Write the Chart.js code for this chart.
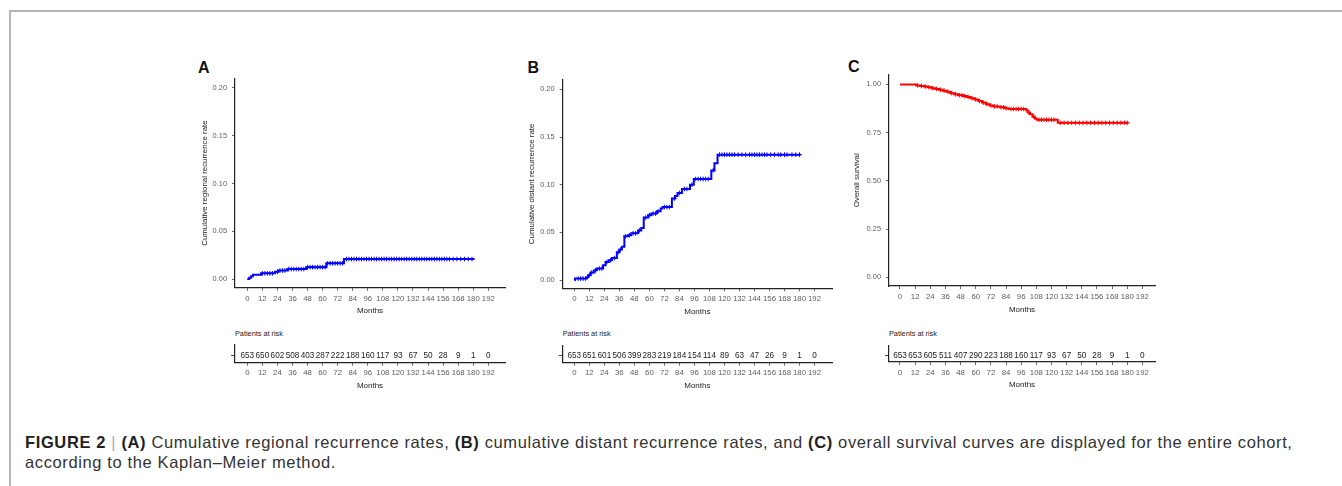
<!DOCTYPE html>
<html>
<head>
<meta charset="utf-8">
<script src="https://cdn.jsdelivr.net/npm/chart.js@4.4.0/dist/chart.umd.min.js"></script>
<style>
  body { margin: 0; background: #fff; font-family: "Liberation Sans", Arial, sans-serif; }
  #page { position: relative; width: 1342px; height: 486px; overflow: hidden; }
  #frame { position: absolute; left: 9px; top: 10px; right: -5px; bottom: -5px;
           border-top: 2px solid #b4b4b4; border-left: 2px solid #b4b4b4; }
  canvas { position: absolute; }
  .letter { position: absolute; font-weight: bold; font-size: 16px; color: #111; line-height: 16px; }
  .risk-title { position: absolute; font-size: 7.3px; color: #222; line-height: 9px; }
  #caption { position: absolute; left: 25px; top: 432px; font-size: 16.5px; letter-spacing: 0.62px;
             line-height: 20px; color: #333; white-space: nowrap; }
  #caption b { color: #231f20; }
  #caption .bar { color: #aaa; }
</style>
</head>
<body>
<div id="page">
  <div id="frame"></div>
  <div id="caption"><b>FIGURE 2</b> <span class="bar">|</span> <b>(A)</b> Cumulative regional recurrence rates, <b>(B)</b> cumulative distant recurrence rates, and <b>(C)</b> overall survival curves are displayed for the entire cohort,<br>according to the Kaplan–Meier method.</div>
</div>
<script>
// shared axis ticks
const monthTicks = [0, 12, 24, 36, 48, 60, 72, 84, 96, 108, 120, 132, 144, 156, 168, 180, 192];
const rateTicks = [0, 0.05, 0.10, 0.15, 0.20];
const survTicks = [0, 0.25, 0.50, 0.75, 1.00];

// A - regional recurrence (step times / cumulative rate)
const regTimes = [0, 1.5, 3, 4.5, 11, 22, 24.5, 32, 47, 63, 77, 181];
const regValues = [0, 0.0015, 0.003, 0.0046, 0.006, 0.0076, 0.009, 0.0105, 0.0125, 0.0165, 0.021, 0.021];
const regCensor = [12, 14, 16, 18, 20, 24, 26, 28, 30, 33, 35, 37, 39, 41, 43, 45, 48, 50, 52, 54, 56, 58, 60, 62,
  64, 66, 68, 70, 72, 74, 76, 79, 81, 83, 85, 87, 89, 91, 93, 95, 97, 99, 101, 103, 105, 107, 109, 111, 113, 115,
  117, 119, 121, 123, 125, 127, 129, 131, 133, 135, 137, 139, 141, 143, 145, 147, 149, 151, 153, 155, 157, 159,
  161, 164, 167, 170, 173, 176, 179];
const regRisk = [653, 650, 602, 508, 403, 287, 222, 188, 160, 117, 93, 67, 50, 28, 9, 1, 0];

// B - distant recurrence
const distTimes = [0, 0.5, 10, 11, 13, 16, 18, 23, 25, 27.5, 30, 34, 36, 38, 40, 43, 45.5, 51, 53.5, 55.5, 59, 61.5,
  66, 69, 70.5, 78, 80.5, 82.5, 86, 92.5, 95.5, 109.5, 112, 114.5, 181];
const distValues = [0, 0.0015, 0.003, 0.005, 0.008, 0.0103, 0.012, 0.0155, 0.019, 0.0207, 0.023, 0.029, 0.032, 0.035,
  0.046, 0.047, 0.049, 0.052, 0.0545, 0.0655, 0.068, 0.0697, 0.072, 0.075, 0.0765, 0.0855, 0.088, 0.0914, 0.0955,
  0.100, 0.106, 0.115, 0.1225, 0.1315, 0.1315];
const distCensor = [3, 5, 7, 9, 12, 14, 17, 20, 22, 26, 29, 32, 35, 37, 41, 44, 47, 49, 52, 57, 60, 63, 65, 67, 72, 74,
  76, 80, 84, 88, 90, 94, 97, 99, 101, 103, 105, 107, 111, 116, 118, 120, 122, 124, 126, 128, 131, 134, 137, 140,
  142, 144, 146, 148, 150, 152, 154, 157, 160, 163, 165, 168, 170, 174, 177, 180];
const distRisk = [653, 651, 601, 506, 399, 283, 219, 184, 154, 114, 89, 63, 47, 26, 9, 1, 0];

// C - overall survival
const osTimes = [0, 12, 13, 16, 19, 22, 25, 28, 31, 34, 37, 40, 43, 46, 50, 53, 56, 59, 62, 65, 68, 71, 74, 79, 83, 86,
  100, 101.5, 103, 105, 107, 108.5, 125, 181];
const osValues = [1, 1, 0.995, 0.992, 0.989, 0.985, 0.981, 0.977, 0.973, 0.968, 0.962, 0.955, 0.949, 0.944, 0.940,
  0.935, 0.929, 0.922, 0.914, 0.906, 0.898, 0.891, 0.886, 0.882, 0.877, 0.873, 0.865, 0.855, 0.845, 0.833, 0.822,
  0.817, 0.801, 0.801];
const osCensor = [14, 17, 20, 23, 26, 29, 32, 35, 38, 41, 44, 47, 49, 51, 54, 57, 60, 63, 66, 69, 72, 75, 77, 80, 82,
  84, 88, 90, 92, 94, 96, 98, 102, 106, 110, 112, 114, 116, 118, 120, 122, 127, 130, 133, 136, 139, 142, 145, 148,
  151, 154, 157, 160, 163, 166, 169, 172, 175, 178, 180];
const osRisk = [653, 653, 605, 511, 407, 290, 223, 188, 160, 117, 93, 67, 50, 28, 9, 1, 0];

Chart.defaults.font.family = '"Liberation Sans", Arial, sans-serif';
Chart.defaults.animation = false;

const panels = [
  { letter: "A", letterX: 198, letterY: 60, yTitle: "Cumulative regional recurrence rate",
    times: regTimes, values: regValues, censor: regCensor, risk: regRisk, yTicks: rateTicks, color: "#0000ff",
    axisX: 235, top: 77.7, bottom: 287.7, right: 505, xMin: -9.8, xMax: 205.3, yMin: -0.009, yMax: 0.21,
    titleDist: 30, riskTop: 342.7, riskBottom: 362.7 },
  { letter: "B", letterX: 527.5, letterY: 60, yTitle: "Cumulative distant recurrence rate",
    times: distTimes, values: distValues, censor: distCensor, risk: distRisk, yTicks: rateTicks, color: "#0000ff",
    axisX: 562.7, top: 78.3, bottom: 288.3, right: 832, xMin: -9.3, xMax: 206, yMin: -0.0087, yMax: 0.2104,
    titleDist: 31, riskTop: 343.3, riskBottom: 362.7 },
  { letter: "C", letterX: 848, letterY: 59, yTitle: "Overall survival",
    times: osTimes, values: osValues, censor: osCensor, risk: osRisk, yTicks: survTicks, color: "#ff0000",
    axisX: 889, top: 73.3, bottom: 286, right: 1155, xMin: -8.7, xMax: 202, yMin: -0.045, yMax: 1.052,
    titleDist: 32.3, riskTop: 343, riskBottom: 362 }
];

function stepAt(times, values, t) {
  let v = values[0];
  for (let i = 0; i < times.length; i++) {
    if (times[i] <= t) v = values[i];
  }
  return v;
}

const riskNumbers = {
  id: "riskNumbers",
  afterDatasetsDraw(chart) {
    const ds = chart.data.datasets[0];
    const { ctx, scales: { x, y } } = chart;
    ctx.save();
    ctx.font = '8.2px "Liberation Sans", Arial, sans-serif';
    ctx.fillStyle = "#222";
    ctx.textAlign = "center";
    ctx.textBaseline = "middle";
    ds.data.forEach(function (p) {
      ctx.fillText(String(p.label), x.getPixelForValue(p.x), y.getPixelForValue(p.y));
    });
    ctx.restore();
  }
};

const page = document.getElementById("page");

function addCanvas(left, top, width, height) {
  const c = document.createElement("canvas");
  c.width = width;
  c.height = height;
  c.style.left = left + "px";
  c.style.top = top + "px";
  c.style.width = width + "px";
  c.style.height = height + "px";
  page.appendChild(c);
  return c;
}

function xAxis(p, xH, tickCenter, titleCenter) {
  const fontSize = 7.8;
  return {
    type: "linear",
    min: p.xMin,
    max: p.xMax,
    afterBuildTicks: function (scale) { scale.ticks = monthTicks.map(function (v) { return { value: v }; }); },
    afterFit: function (scale) { scale.height = xH; },
    border: { display: true, color: "#222", width: 1.2 },
    grid: { display: true, drawOnChartArea: false, drawTicks: true, tickLength: 3, color: "#666" },
    ticks: { color: "#5e5e5e", font: { size: fontSize }, padding: tickCenter - 3 - fontSize * 0.6, maxRotation: 0, autoSkip: false },
    title: { display: true, text: "Months", color: "#222", font: { size: 8 },
             padding: { top: 0, bottom: xH - titleCenter - 4.8 } }
  };
}

panels.forEach(function (p) {
  // panel letter
  const L = document.createElement("div");
  L.className = "letter";
  L.style.left = p.letterX + "px";
  L.style.top = p.letterY + "px";
  L.textContent = p.letter;
  page.appendChild(L);

  // main KM plot
  const cLeft = Math.floor(p.axisX - 45);
  const yW = p.axisX - cLeft;
  const cTop = Math.floor(p.top - 8);
  const cW = Math.ceil(p.right + 6) - cLeft;
  const cH = Math.ceil(p.bottom + 32) - cTop;
  const xH = cTop + cH - p.bottom;

  const stepData = p.times.map(function (t, i) { return { x: t, y: p.values[i] }; });
  const censorData = p.censor.map(function (t) { return { x: t, y: stepAt(p.times, p.values, t) }; });

  new Chart(addCanvas(cLeft, cTop, cW, cH), {
    type: "line",
    data: {
      datasets: [
        { data: stepData, stepped: "before", borderColor: p.color, borderWidth: 2, pointRadius: 0, fill: false },
        { data: censorData, showLine: false, pointStyle: "cross", pointRadius: 2.3, pointBorderWidth: 1,
          borderColor: p.color, backgroundColor: p.color }
      ]
    },
    options: {
      responsive: false,
      devicePixelRatio: 1,
      layout: { padding: { left: 0, top: p.top - cTop, right: cLeft + cW - p.right, bottom: 0 } },
      plugins: { legend: { display: false }, tooltip: { enabled: false } },
      scales: {
        x: xAxis(p, xH, 11, 23.5),
        y: {
          type: "linear",
          min: p.yMin,
          max: p.yMax,
          afterBuildTicks: function (scale) { scale.ticks = p.yTicks.map(function (v) { return { value: v }; }); },
          afterFit: function (scale) { scale.width = yW; },
          border: { display: true, color: "#222", width: 1.2 },
          grid: { display: true, drawOnChartArea: false, drawTicks: true, tickLength: 3, color: "#666" },
          ticks: { color: "#5e5e5e", font: { size: 7.4 }, padding: 5, callback: function (v) { return v.toFixed(2); } },
          title: { display: true, text: p.yTitle, color: "#222", font: { size: 7.9 },
                   padding: { top: p.axisX - p.titleDist - cLeft - 4.7, bottom: 0 } }
        }
      }
    }
  });

  // "Patients at risk" heading
  const T = document.createElement("div");
  T.className = "risk-title";
  T.style.left = p.axisX + "px";
  T.style.top = (p.riskTop - 14) + "px";
  T.textContent = "Patients at risk";
  page.appendChild(T);

  // risk table
  const rTop = Math.floor(p.riskTop - 8);
  const rH = Math.ceil(p.riskBottom + 33) - rTop;
  const rxH = rTop + rH - p.riskBottom;
  const riskData = monthTicks.map(function (m, i) { return { x: m, y: 0.4, label: p.risk[i] }; });

  new Chart(addCanvas(cLeft, rTop, cW, rH), {
    type: "scatter",
    data: { datasets: [{ data: riskData, pointRadius: 0 }] },
    options: {
      responsive: false,
      devicePixelRatio: 1,
      layout: { padding: { left: 0, top: p.riskTop - rTop, right: cLeft + cW - p.right, bottom: 0 } },
      plugins: { legend: { display: false }, tooltip: { enabled: false } },
      scales: {
        x: xAxis(p, rxH, 10.5, 23),
        y: {
          type: "linear",
          min: 0,
          max: 1,
          afterBuildTicks: function (scale) { scale.ticks = [{ value: 0.4 }]; },
          afterFit: function (scale) { scale.width = yW; },
          border: { display: true, color: "#222", width: 1.2 },
          grid: { display: true, drawOnChartArea: false, drawTicks: true, tickLength: 4, color: "#444" },
          ticks: { callback: function () { return ""; } }
        }
      }
    },
    plugins: [riskNumbers]
  });
});
</script>
</body>
</html>
